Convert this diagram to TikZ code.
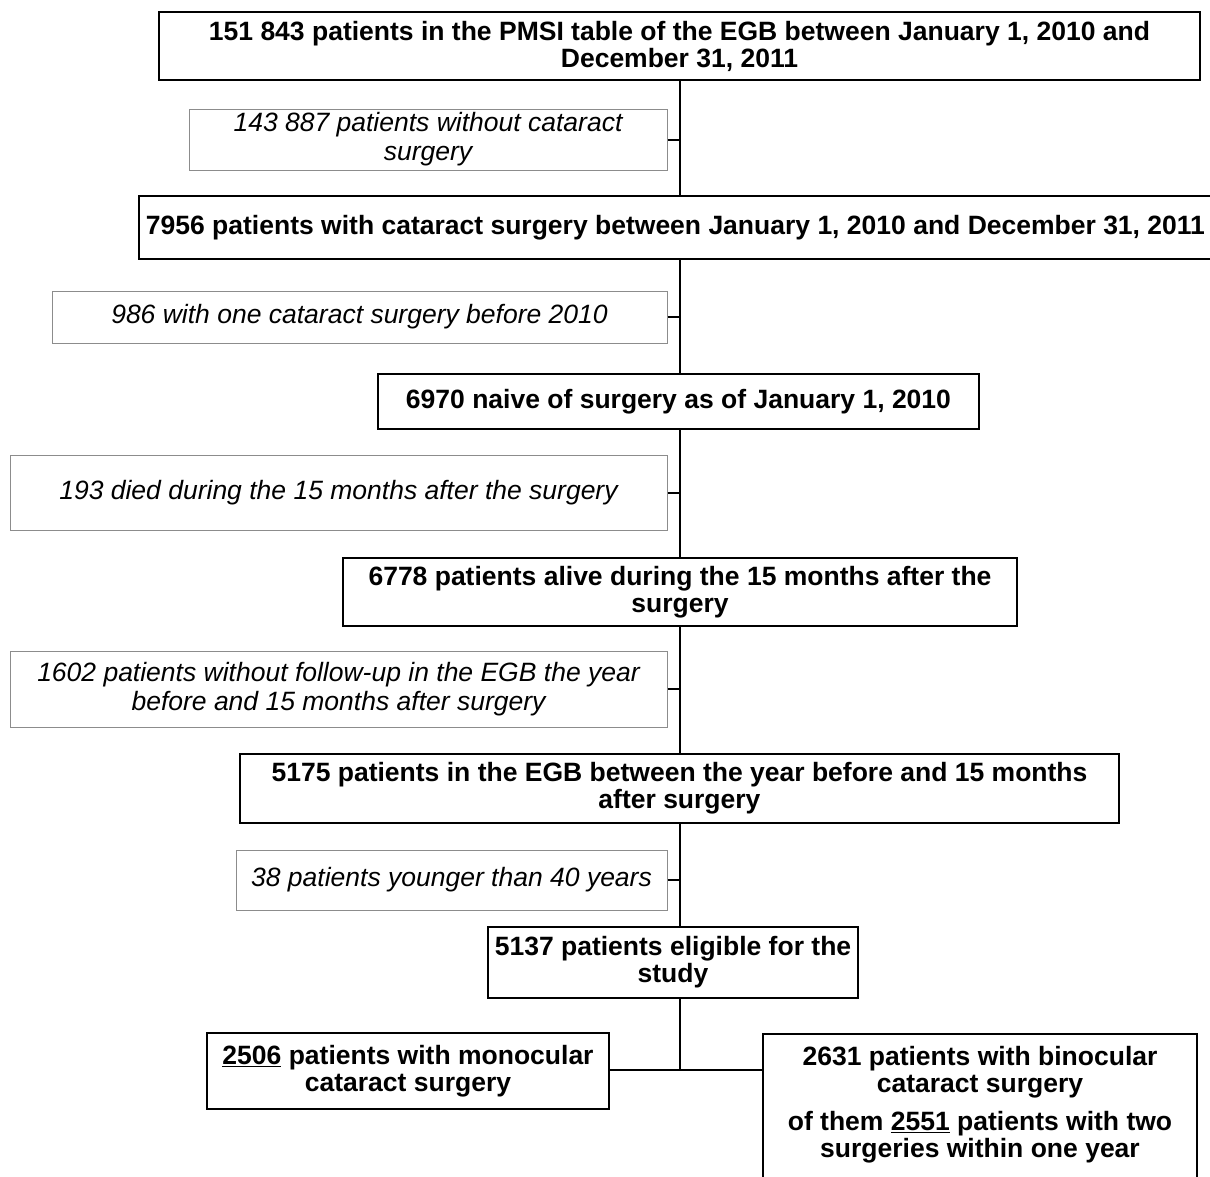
\documentclass[tikz,border=0pt]{standalone}
\usepackage{fontspec}
\setmainfont{Liberation Sans}
\begin{document}
\begin{tikzpicture}[x=1pt,y=-1pt,
  mainbox/.style={draw=black,line width=2.4pt,align=center,inner sep=0pt,
    font=\fontsize{26.5}{27}\selectfont\bfseries},
  exclbox/.style={draw=black!45,line width=1pt,align=center,inner sep=0pt,
    font=\fontsize{26.5}{29}\selectfont\itshape},
  link/.style={draw=black,line width=2pt}]
\useasboundingbox (0,0) rectangle (1210,1176);
% main boxes (centre x, centre y, width, height)
\node[mainbox,minimum width=1041pt,minimum height=68pt] (b1) at (679.5,46)
  {151 843 patients in the PMSI table of the EGB between January 1, 2010 and\\December 31, 2011};
\node[mainbox,minimum width=1073pt,minimum height=63pt] (b2) at (675.5,227.5)
  {7956 patients with cataract surgery between January 1, 2010 and December 31, 2011};
\node[mainbox,minimum width=601pt,minimum height=55pt] (b3) at (678.5,401.5)
  {6970 naive of surgery as of January 1, 2010};
\node[mainbox,minimum width=674pt,minimum height=68pt] (b4) at (680,592)
  {6778 patients alive during the 15 months after the\\surgery};
\node[mainbox,minimum width=879pt,minimum height=69pt] (b5) at (679.5,788.5)
  {5175 patients in the EGB between the year before and 15 months\\after surgery};
\node[mainbox,minimum width=370pt,minimum height=71pt] (b6) at (673,962.5)
  {5137 patients eligible for the\\study};
\node[mainbox,minimum width=402pt,minimum height=76pt] (b7) at (408,1071)
  {\underline{2506} patients with monocular\\cataract surgery};
\node[mainbox,minimum width=434pt,minimum height=150pt,anchor=north] (b8) at (980,1033)
  {};
\node[font=\fontsize{26.5}{27}\selectfont\bfseries,align=center,inner sep=0pt] (b8a) at (980,1072.5)
  {2631 patients with binocular\\cataract surgery};
\node[font=\fontsize{26.5}{27}\selectfont\bfseries,align=center,inner sep=0pt] (b8b) at (980,1137.5)
  {of them \underline{2551} patients with two\\surgeries within one year};
% exclusion boxes
\node[exclbox,minimum width=478pt,minimum height=61pt] (e1) at (428,139.5)
  {143 887 patients without cataract\\surgery};
\node[exclbox,minimum width=615pt,minimum height=52pt] (e2) at (359.5,317)
  {986 with one cataract surgery before 2010};
\node[exclbox,minimum width=657pt,minimum height=75pt] (e3) at (338.5,492.5)
  {193 died during the 15 months after the surgery};
\node[exclbox,minimum width=657pt,minimum height=76pt] (e4) at (338.5,689)
  {1602 patients without follow-up in the EGB the year\\before and 15 months after surgery};
\node[exclbox,minimum width=431pt,minimum height=60pt] (e5) at (451.5,880)
  {38 patients younger than 40 years};
% spine
\coordinate (sp) at (680,0);
\draw[link] (b1.south -| sp) -- (b2.north -| sp);
\draw[link] (b2.south -| sp) -- (b3.north -| sp);
\draw[link] (b3.south -| sp) -- (b4.north -| sp);
\draw[link] (b4.south -| sp) -- (b5.north -| sp);
\draw[link] (b5.south -| sp) -- (b6.north -| sp);
\foreach \e in {e1,e2,e3,e4,e5}
  \draw[link] (\e.east) -- (\e.east -| sp);
\coordinate (split) at (680,1070);
\draw[link] (b6.south -| sp) -- (split);
\draw[link] (b7.east |- split) -- (b8.west |- split);
\end{tikzpicture}
\end{document}
